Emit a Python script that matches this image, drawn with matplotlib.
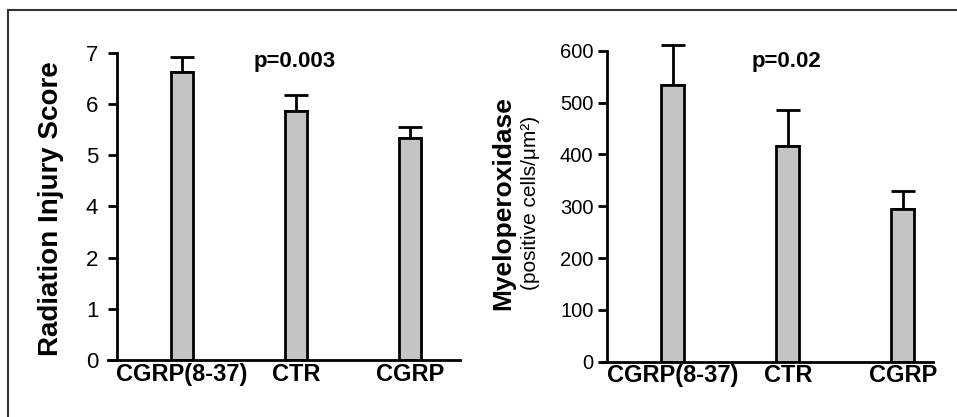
import numpy as np
import matplotlib
matplotlib.use("Agg")
import matplotlib.pyplot as plt
from matplotlib.lines import Line2D

plt.rcParams['font.family'] = ['Liberation Sans', 'DejaVu Sans']

categories = ["CGRP(8-37)", "CTR", "CGRP"]
injury_mean = [6.63, 5.86, 5.34]
injury_err = [0.29, 0.31, 0.20]
injury_ticks = [0, 1, 2, 4, 5, 6, 7]
mpo_mean = [534, 417, 295]
mpo_err = [77, 69, 35]
mpo_ticks = [0, 100, 200, 300, 400, 500, 600]

fig = plt.figure(figsize=(9.57, 4.17), dpi=100)
W, H = 957, 417

def px_axes(x0, x1, y_top, y_bot):
    return fig.add_axes([x0 / W, 1 - y_bot / H, (x1 - x0) / W, (y_bot - y_top) / H])

# piecewise scale: the reference's left axis skips "3"
def fwd(v):
    v = np.asarray(v, dtype=float)
    return np.where(v <= 2, v, np.where(v <= 4, 2 + (v - 2) / 2, v - 1))

def inv(p):
    p = np.asarray(p, dtype=float)
    return np.where(p <= 2, p, np.where(p <= 3, 2 + (p - 2) * 2, p + 1))

bar_kw = dict(width=0.2, color='#c4c4c4', edgecolor='black', linewidth=2.0, zorder=2)
err_kw = dict(fmt='none', ecolor='black', elinewidth=2.0, capsize=8.5, capthick=2.0, zorder=1, clip_on=False)

def style(ax, spine_x, ylabsize, ypad):
    for s in ['top', 'right']:
        ax.spines[s].set_visible(False)
    ax.spines['left'].set_position(('data', spine_x))
    ax.spines['left'].set_linewidth(2.0)
    ax.spines['bottom'].set_linewidth(2.0)
    ax.tick_params(axis='y', direction='out', length=6.5, width=2.0, labelsize=ylabsize, pad=ypad)
    ax.tick_params(axis='x', length=0, pad=2)
    ax.set_facecolor('none')
    x = np.arange(len(categories))
    ax.set_xticks(x)
    ax.set_xticklabels(categories, fontsize=17, fontweight='bold')

x = np.arange(len(categories))

# Left panel
ax1 = px_axes(108, 460, 52.7, 360)
ax1.set_yscale('function', functions=(fwd, inv))
ax1.errorbar(x, injury_mean, yerr=[np.zeros(3), injury_err], **err_kw)
ax1.bar(x, injury_mean, **bar_kw)
ax1.set_xlim(-0.649, 2.439)
ax1.set_ylim(0, 7)
ax1.set_yticks(injury_ticks)
ax1.set_yticklabels([str(t) for t in injury_ticks])
ax1.yaxis.set_minor_locator(matplotlib.ticker.NullLocator())
style(ax1, -0.570, 16, 7)
ax1.text(0.984, 6.83, "p=0.003", fontsize=16, fontweight='bold', ha='center', va='center')
fig.text(51 / W, 1 - 209 / H, "Radiation Injury Score", rotation=90, fontsize=20,
         fontweight='bold', ha='center', va='center')

# Right panel
ax2 = px_axes(602.7, 933, 50.7, 361.7)
ax2.errorbar(x, mpo_mean, yerr=[np.zeros(3), mpo_err], **err_kw)
ax2.bar(x, mpo_mean, **bar_kw)
ax2.set_xlim(-0.611, 2.261)
ax2.set_ylim(0, 600)
ax2.set_yticks(mpo_ticks)
style(ax2, -0.577, 14.5, 3)
ax2.text(0.99, 579, "p=0.02", fontsize=16, fontweight='bold', ha='center', va='center')
fig.text(503 / W, 1 - 203 / H, "Myeloperoxidase", rotation=90, fontsize=19,
         fontweight='bold', ha='center', va='center')
fig.text(530 / W, 1 - 203 / H, "(positive cells/\u03bcm\u00b2)", rotation=90, fontsize=15,
         ha='center', va='center')

# outer frame (top and left edges)
fig.add_artist(Line2D([8 / W, 8 / W], [0, 1 - 10 / H], color='#333333', linewidth=1.5))
fig.add_artist(Line2D([8 / W, 1], [1 - 10 / H, 1 - 10 / H], color='#333333', linewidth=1.5))

fig.savefig("out.png", dpi=100)
